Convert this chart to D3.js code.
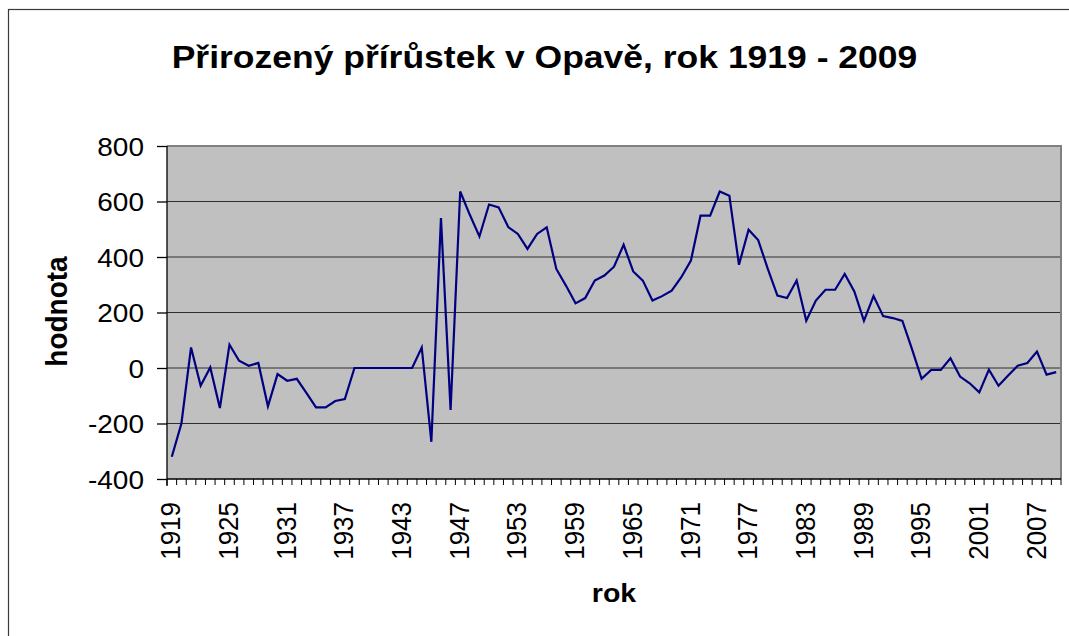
<!DOCTYPE html>
<html>
<head>
<meta charset="utf-8">
<script src="https://cdn.jsdelivr.net/npm/d3@7"></script>
<style>
  html, body { margin: 0; padding: 0; background: #ffffff; }
  svg { display: block; font-family: Arial, "Liberation Sans", sans-serif; }
</style>
</head>
<body>
<svg id="chart" width="1069" height="636"></svg>
<script>
// Category labels (years); 1945 and 1946 each appear twice in the source table
const years = [
  "1919","1920","1921","1922","1923","1924","1925","1926","1927","1928",
  "1929","1930","1931","1932","1933","1934","1935","1936","1937","1938",
  "1939","1940","1941","1942","1943","1944","1945","1945","1946","1946",
  "1947","1948","1949","1950","1951","1952","1953","1954","1955","1956",
  "1957","1958","1959","1960","1961","1962","1963","1964","1965","1966",
  "1967","1968","1969","1970","1971","1972","1973","1974","1975","1976",
  "1977","1978","1979","1980","1981","1982","1983","1984","1985","1986",
  "1987","1988","1989","1990","1991","1992","1993","1994","1995","1996",
  "1997","1998","1999","2000","2001","2002","2003","2004","2005","2006",
  "2007","2008","2009"
];

// Natural increase (births minus deaths)
const increase = [
  -320, -200, 74, -64, 2, -144, 84, 26, 8, 18,
  -138, -22, -46, -39, -90, -142, -142, -119, -112, 0,
  0, 0, 0, 0, 0, 0, 74, -266, 540, -151,
  636, 552, 474, 589, 579, 508, 483, 429, 483, 507,
  357, 297, 233, 252, 315, 333, 365, 444, 348, 315,
  243, 259, 279, 327, 387, 549, 549, 636, 621, 372,
  498, 461, 357, 261, 252, 315, 170, 243, 282, 282,
  339, 276, 170, 259, 187, 180, 170, 68, -39, -7,
  -7, 35, -31, -55, -88, -6, -64, -27, 8, 18,
  59, -24, -15
];

const yTicks = [-400, -200, 0, 200, 400, 600, 800];
const labelEvery = 6;

const titleText = "Přirozený přírůstek v Opavě, rok 1919 - 2009";
const xTitle = "rok";
const yTitle = "hodnota";

const svg = d3.select("#chart");
const plot = { left: 167, right: 1061, top: 146, bottom: 479 };
const stretch = 1.12; // text is drawn slightly wide

// Outer chart frame
svg.append("rect")
  .attr("x", 8.5).attr("y", 9.5)
  .attr("width", 1100).attr("height", 700)
  .attr("fill", "#ffffff")
  .attr("stroke", "#3a3a3a").attr("stroke-width", 1.2);

const x = d3.scaleBand()
  .domain(d3.range(years.length))
  .range([plot.left, plot.right]);

const y = d3.scaleLinear()
  .domain([-400, 800])
  .range([plot.bottom, plot.top]);

// Plot background
svg.append("rect")
  .attr("x", plot.left).attr("y", plot.top)
  .attr("width", plot.right - plot.left)
  .attr("height", plot.bottom - plot.top)
  .attr("fill", "#c0c0c0");

// Horizontal gridlines
svg.append("g")
  .selectAll("line")
  .data(yTicks.filter(v => v !== -400 && v !== 800))
  .join("line")
  .attr("x1", plot.left).attr("x2", plot.right)
  .attr("y1", d => y(d)).attr("y2", d => y(d))
  .attr("stroke", "#2e2e2e").attr("stroke-width", 1.2);

// Plot frame on top and right
svg.append("path")
  .attr("d", `M${plot.left},${plot.top}H${plot.right}V${plot.bottom}`)
  .attr("fill", "none")
  .attr("stroke", "#808080").attr("stroke-width", 2);

// Y axis
const yAxis = svg.append("g")
  .attr("transform", `translate(${plot.left},0)`)
  .call(d3.axisLeft(y).tickValues(yTicks).tickSize(10).tickPadding(0).tickFormat(d3.format("d")));
yAxis.select(".domain").attr("stroke", "#000").attr("stroke-width", 1.3)
  .attr("d", `M0,${plot.top}V${plot.bottom + 7}`);
yAxis.selectAll(".tick line").attr("stroke", "#000").attr("stroke-width", 1.3);
yAxis.selectAll(".tick text").remove();
yAxis.selectAll(".tick").append("text")
  .attr("transform", `translate(-23,0) scale(${stretch},1)`)
  .attr("text-anchor", "end")
  .attr("dy", "0.36em")
  .attr("fill", "#000")
  .style("font-size", "25px")
  .style("font-family", "Arial, 'Liberation Sans', sans-serif")
  .text(d => d);

// X axis: a tick between each pair of categories
const step = x.step();
const xAxis = svg.append("g");
xAxis.append("line")
  .attr("x1", plot.left).attr("x2", plot.right)
  .attr("y1", plot.bottom).attr("y2", plot.bottom)
  .attr("stroke", "#000").attr("stroke-width", 1.3);
xAxis.selectAll("line.cat")
  .data(d3.range(years.length + 1))
  .join("line")
  .attr("class", "cat")
  .attr("x1", i => plot.left + i * step).attr("x2", i => plot.left + i * step)
  .attr("y1", plot.bottom).attr("y2", plot.bottom + 6)
  .attr("stroke", "#000").attr("stroke-width", 1);

// X tick labels, every sixth category, rotated
xAxis.selectAll("text")
  .data(d3.range(0, years.length, labelEvery))
  .join("text")
  .attr("transform", i => `translate(${x(i) + x.bandwidth() / 2 - 1.5},502) scale(1.08,1) rotate(-90)`)
  .attr("text-anchor", "end")
  .attr("dy", "0.36em")
  .attr("fill", "#000")
  .style("font-size", "26px")
  .text(i => years[i]);

// Data line
const line = d3.line()
  .x((d, i) => x(i) + x.bandwidth() / 2)
  .y(d => y(d));
svg.append("path")
  .datum(increase)
  .attr("d", line)
  .attr("fill", "none")
  .attr("stroke", "#000080")
  .attr("stroke-width", 2.2)
  .attr("stroke-linejoin", "miter");

// Title and axis titles
svg.append("text")
  .attr("transform", `translate(544.5,68) scale(${stretch},1)`)
  .attr("text-anchor", "middle")
  .style("font-size", "31.7px").style("font-weight", "bold")
  .text(titleText);

svg.append("text")
  .attr("transform", `translate(614,602) scale(${stretch},1)`)
  .attr("text-anchor", "middle")
  .style("font-size", "25.5px").style("font-weight", "bold")
  .text(xTitle);

svg.append("text")
  .attr("transform", `translate(56,311.5) scale(1.08,1) rotate(-90)`)
  .attr("text-anchor", "middle")
  .attr("dy", "0.36em")
  .style("font-size", "28px").style("font-weight", "bold")
  .text(yTitle);
</script>
</body>
</html>
